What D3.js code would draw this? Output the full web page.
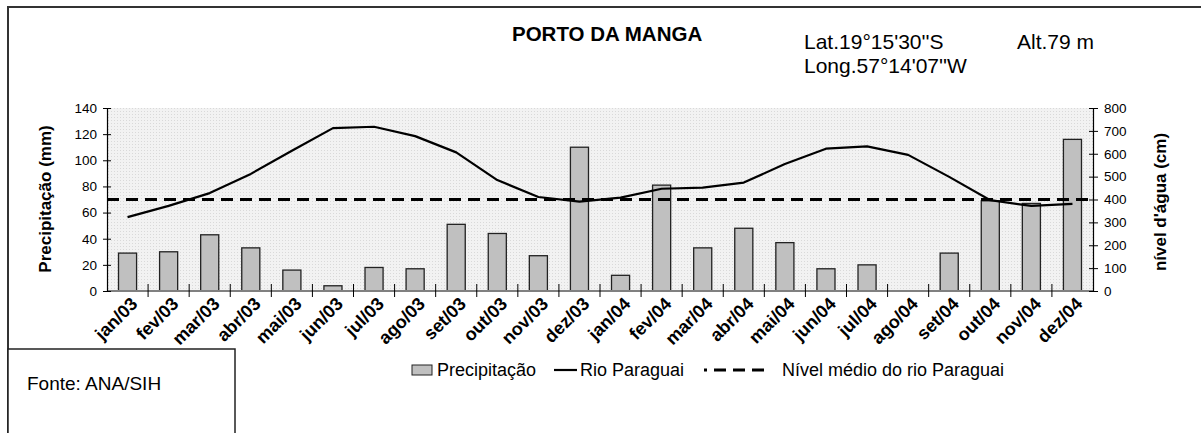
<!DOCTYPE html>
<html><head><meta charset="utf-8">
<script src="https://cdn.jsdelivr.net/npm/d3@7"></script>
<style>body{margin:0;background:#fff}svg{display:block;font-family:Arial,"Liberation Sans",sans-serif}</style>
</head><body><svg id="c" width="1201" height="433"></svg>
<script>
const months = ["jan/03","fev/03","mar/03","abr/03","mai/03","jun/03","jul/03","ago/03","set/03","out/03","nov/03","dez/03",
                "jan/04","fev/04","mar/04","abr/04","mai/04","jun/04","jul/04","ago/04","set/04","out/04","nov/04","dez/04"];
const precipitacao = [29,30,43,33,16,4,18,17,51,44,27,110, 12,81,33,48,37,17,20,null,29,69,67,116];
const rioParaguai = [323,372,428,512,613,712,718,677,606,485,411,391, 408,447,452,474,555,622,632,595,499,397,372,381];
const nivelMedio = 400;
const leftTicks = [0,20,40,60,80,100,120,140];
const rightTicks = [0,100,200,300,400,500,600,700,800];

const svg = d3.select("#c");
const L = 107, R = 1093, T = 108, B = 291;

// outer border
svg.append("path").attr("d","M8,433V7H1201").attr("fill","none").attr("stroke","#333").attr("stroke-width",2);

// pattern background
const defs = svg.append("defs");
const pat = defs.append("pattern").attr("id","dots").attr("width",3).attr("height",3).attr("patternUnits","userSpaceOnUse");
pat.append("rect").attr("width",3).attr("height",3).attr("fill","#f2f2f2");
pat.append("rect").attr("width",1).attr("height",1).attr("fill","#d9d9d9");

const x = d3.scaleBand().domain(months).range([L,R]).paddingInner(0).paddingOuter(0);
const yL = d3.scaleLinear().domain([0,140]).range([B,T]);
const yR = d3.scaleLinear().domain([0,800]).range([B,T]);

svg.append("rect").attr("x",L).attr("y",T).attr("width",R-L).attr("height",B-T).attr("fill","url(#dots)");

// bars
const bw = x.bandwidth()*0.44;
svg.append("g").selectAll("rect").data(months.map((m,i)=>({m,v:precipitacao[i]})).filter(d=>d.v!=null))
  .join("rect")
  .attr("x",d=>x(d.m)+x.bandwidth()/2-bw/2).attr("width",bw)
  .attr("y",d=>yL(d.v)).attr("height",d=>B-yL(d.v))
  .attr("fill","#c0c0c0").attr("stroke","#222").attr("stroke-width",1.3);

// dashed mean line
svg.append("line").attr("x1",L).attr("x2",R).attr("y1",yR(nivelMedio)).attr("y2",yR(nivelMedio))
  .attr("stroke","#000").attr("stroke-width",3).attr("stroke-dasharray","12,7");

// river line
svg.append("path").datum(rioParaguai)
  .attr("d",d3.line().x((d,i)=>x(months[i])+x.bandwidth()/2).y(d=>yR(d)))
  .attr("fill","none").attr("stroke","#000").attr("stroke-width",2.2).attr("stroke-linejoin","round");

// x axis
svg.append("line").attr("x1",L).attr("x2",R).attr("y1",B).attr("y2",B).attr("stroke","#808080").attr("stroke-width",2);
const xt = svg.append("g");
months.forEach((m,i)=>{ if(i>0) xt.append("line").attr("x1",x(m)).attr("x2",x(m)).attr("y1",B-7).attr("y2",B+6).attr("stroke","#000").attr("stroke-width",1); });
xt.selectAll("text").data(months).join("text")
  .attr("transform",d=>`translate(${x(d)+x.bandwidth()/2+11},${B+14}) rotate(-45)`)
  .attr("text-anchor","end").attr("font-weight","bold").attr("font-size",18).text(d=>d);

// left axis
const gl = svg.append("g").attr("transform",`translate(${L},0)`)
  .call(d3.axisLeft(yL).tickValues(leftTicks).tickSize(0).tickPadding(10));
gl.select(".domain").attr("stroke","#000").attr("stroke-width",1.2);
gl.selectAll("text").attr("font-size",13.5).attr("font-family","Arial,'Liberation Sans',sans-serif").attr("fill","#000");
gl.selectAll(".tick").append("line").attr("x1",-4).attr("x2",4).attr("stroke","#000");
// right axis
const gr = svg.append("g").attr("transform",`translate(${R},0)`)
  .call(d3.axisRight(yR).tickValues(rightTicks).tickSize(0).tickPadding(11));
gr.select(".domain").attr("stroke","#000").attr("stroke-width",1.2);
gr.selectAll("text").attr("font-size",13.5).attr("font-family","Arial,'Liberation Sans',sans-serif").attr("fill","#000");
gr.selectAll(".tick").append("line").attr("x1",-4).attr("x2",5).attr("stroke","#000");

// axis titles
svg.append("text").attr("transform","translate(51,199) rotate(-90)").attr("text-anchor","middle")
  .attr("font-weight","bold").attr("font-size",17).text("Precipitação (mm)");
svg.append("text").attr("transform","translate(1166,202) rotate(-90)").attr("text-anchor","middle")
  .attr("font-weight","bold").attr("font-size",17).text("nível d'água (cm)");

// header texts
svg.append("text").attr("x",512).attr("y",41).attr("font-weight","bold").attr("font-size",20.5).text("PORTO DA MANGA");
svg.append("text").attr("x",804).attr("y",49).attr("font-size",21).text("Lat.19°15'30''S");
svg.append("text").attr("x",804).attr("y",73).attr("font-size",21).text("Long.57°14'07''W");
svg.append("text").attr("x",1017).attr("y",49).attr("font-size",21).text("Alt.79 m");

// legend
const ly = 370;
svg.append("rect").attr("x",412).attr("y",ly-5).attr("width",20).attr("height",10).attr("fill","#c0c0c0").attr("stroke","#222").attr("stroke-width",1);
svg.append("text").attr("x",437).attr("y",ly+6).attr("font-size",18).text("Precipitação");
svg.append("line").attr("x1",554).attr("x2",577).attr("y1",ly).attr("y2",ly).attr("stroke","#000").attr("stroke-width",2.2);
svg.append("text").attr("x",580).attr("y",ly+6).attr("font-size",18).text("Rio Paraguai");
svg.append("line").attr("x1",704).attr("x2",765).attr("y1",ly).attr("y2",ly).attr("stroke","#000").attr("stroke-width",3).attr("stroke-dasharray","3,7,12,7,12,7,12,30");
svg.append("text").attr("x",782).attr("y",ly+6).attr("font-size",18).text("Nível médio do rio Paraguai");

// source box
svg.append("rect").attr("x",8).attr("y",349).attr("width",227).attr("height",100).attr("fill","#fff").attr("stroke","#222").attr("stroke-width",1.5);
svg.append("text").attr("x",27).attr("y",390).attr("font-size",19).text("Fonte: ANA/SIH");
</script></body></html>
